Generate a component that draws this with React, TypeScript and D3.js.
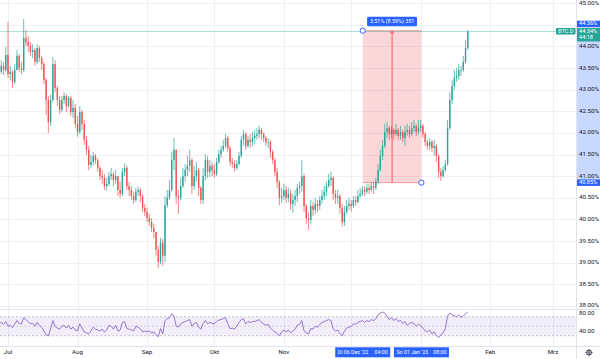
import { useEffect, useRef } from 'react';
import * as d3 from 'd3';

// daily bars as [high, low, close] -- open is the previous close
const firstOpen = 43.48;
const junBars = [[43.57, 43.31, 43.41], [43.68, 43.36, 43.55], [43.64, 43.34, 43.45], [43.98, 43.41, 43.80]];
const julBars = [
  [44.56, 43.27, 43.36], [43.55, 43.22, 43.41], [43.45, 43.04, 43.18], [43.59, 43.13, 43.45], [43.91, 43.45, 43.78],
  [43.82, 43.41, 43.50], [43.64, 43.36, 43.45], [44.63, 43.41, 44.19], [44.38, 44.01, 44.10], [44.24, 43.87, 44.01],
  [44.10, 43.78, 43.87], [44.05, 43.73, 43.91], [43.96, 43.55, 43.64], [44.05, 43.59, 43.96], [44.01, 43.64, 43.73],
  [43.78, 43.45, 43.59], [43.64, 43.13, 43.22], [43.27, 42.41, 42.76], [42.85, 42.00, 42.25], [42.88, 42.16, 42.76],
  [43.75, 42.71, 43.59], [43.68, 42.94, 43.04], [43.08, 42.62, 42.76], [42.85, 42.44, 42.53], [42.85, 42.48, 42.76],
  [42.94, 42.67, 42.85], [42.90, 42.48, 42.62], [42.85, 42.58, 42.81], [42.85, 42.39, 42.48], [42.76, 42.34, 42.58],
  [42.67, 42.11, 42.21],
];
const augBars = [
  [42.39, 41.91, 42.02], [42.62, 41.97, 42.48], [42.53, 42.07, 42.21], [42.30, 41.72, 41.84], [41.93, 41.49, 41.61],
  [41.70, 41.14, 41.26], [41.49, 41.19, 41.33], [41.56, 41.24, 41.47], [41.51, 41.28, 41.37], [41.42, 41.10, 41.19],
  [41.24, 40.91, 41.00], [41.14, 40.82, 40.96], [41.05, 40.68, 40.77], [40.96, 40.66, 40.82], [41.10, 40.77, 41.00],
  [41.19, 40.91, 41.05], [41.10, 40.77, 40.91], [41.14, 40.82, 41.00], [41.00, 40.54, 40.68], [40.87, 40.50, 40.59],
  [41.19, 40.54, 41.10], [41.30, 41.00, 41.19], [41.24, 40.68, 40.77], [40.87, 40.54, 40.68], [40.77, 40.45, 40.54],
  [40.64, 40.36, 40.45], [40.73, 40.40, 40.64], [40.77, 40.54, 40.68], [40.73, 40.40, 40.54], [40.59, 40.17, 40.27],
  [40.36, 40.08, 40.17],
];
const sepBars = [
  [40.27, 39.94, 40.03], [40.13, 39.85, 39.94], [40.03, 39.71, 39.80], [39.90, 39.57, 39.71], [39.71, 39.16, 39.30],
  [39.39, 38.88, 39.02], [39.57, 38.97, 39.46], [39.55, 38.93, 39.16], [40.54, 39.02, 40.33], [40.68, 40.27, 40.50],
  [40.91, 40.45, 40.68], [41.56, 40.64, 41.37], [41.88, 41.14, 41.61], [41.61, 40.36, 40.54], [40.68, 40.13, 40.50],
  [40.96, 40.45, 40.77], [41.19, 40.73, 41.00], [41.28, 40.87, 41.14], [41.47, 41.00, 41.24], [41.61, 41.10, 41.37],
  [41.42, 40.59, 40.77], [41.24, 40.68, 41.00], [41.33, 40.87, 41.14], [41.19, 40.54, 40.73], [40.77, 40.36, 40.45],
  [41.19, 40.36, 41.00], [41.51, 40.91, 41.37], [41.47, 40.96, 41.10], [41.37, 40.98, 41.24], [41.33, 41.00, 41.14],
];
const octBars = [
  [41.28, 40.96, 41.05], [41.42, 41.00, 41.33], [41.61, 41.28, 41.51], [41.70, 41.42, 41.61], [41.84, 41.56, 41.70],
  [41.97, 41.65, 41.88], [41.93, 41.56, 41.65], [41.70, 41.24, 41.33], [41.42, 41.19, 41.28], [41.37, 41.10, 41.19],
  [41.37, 41.14, 41.28], [41.56, 41.24, 41.47], [41.93, 41.42, 41.84], [42.07, 41.70, 41.97], [42.02, 41.61, 41.70],
  [41.93, 41.65, 41.84], [41.97, 41.65, 41.79], [42.02, 41.70, 41.88], [42.07, 41.74, 41.93], [42.11, 41.84, 41.97],
  [42.16, 41.88, 42.07], [42.11, 41.84, 41.97], [42.02, 41.79, 41.88], [41.93, 41.70, 41.79], [41.88, 41.65, 41.79],
  [41.84, 41.42, 41.56], [41.61, 41.28, 41.37], [41.42, 41.00, 41.10], [41.19, 40.73, 40.87], [40.91, 40.33, 40.50],
  [40.73, 40.38, 40.54],
];
const novBars = [
  [40.82, 40.45, 40.68], [40.77, 40.38, 40.50], [40.73, 40.40, 40.59], [40.68, 40.22, 40.36], [40.59, 40.15, 40.45],
  [40.68, 40.31, 40.54], [40.82, 40.40, 40.73], [40.87, 40.59, 40.77], [41.37, 40.64, 41.00], [41.05, 40.17, 40.31],
  [40.36, 39.90, 40.03], [40.17, 39.76, 39.99], [40.45, 39.90, 40.31], [40.40, 40.08, 40.22], [40.50, 40.13, 40.36],
  [40.45, 40.17, 40.31], [40.54, 40.22, 40.45], [40.68, 40.36, 40.54], [40.77, 40.45, 40.64], [40.87, 40.54, 40.77],
  [41.05, 40.73, 40.91], [41.10, 40.77, 40.96], [41.00, 40.45, 40.59], [40.68, 40.36, 40.50], [40.68, 40.36, 40.54],
  [40.59, 40.13, 40.27], [40.36, 39.83, 39.94], [40.31, 39.85, 40.17], [40.45, 40.13, 40.31], [40.50, 40.22, 40.36],
];
const decBars = [
  [40.45, 40.17, 40.31], [40.54, 40.27, 40.45], [40.54, 40.31, 40.40], [40.68, 40.36, 40.54], [40.73, 40.50, 40.59],
  [40.77, 40.54, 40.68], [40.77, 40.54, 40.64], [40.82, 40.59, 40.73], [40.82, 40.59, 40.68], [40.87, 40.64, 40.77],
  [40.87, 40.59, 40.73], [40.96, 40.68, 40.87], [41.28, 40.82, 41.14], [41.61, 41.10, 41.47], [41.84, 41.37, 41.70],
  [42.21, 41.65, 42.02], [42.25, 41.88, 42.11], [42.16, 41.84, 41.97], [42.16, 41.88, 42.07], [42.11, 41.84, 41.97],
  [42.21, 41.93, 42.07], [42.11, 41.84, 41.93], [42.16, 41.84, 42.02], [42.07, 41.79, 41.88], [42.16, 41.70, 42.02],
  [42.21, 41.93, 42.07], [42.16, 41.88, 41.97], [42.25, 41.93, 42.11], [42.30, 42.02, 42.16], [42.21, 41.93, 42.02],
  [42.30, 41.97, 42.11],
];
const janBars = [
  [42.30, 42.02, 42.16], [42.21, 41.88, 41.97], [42.02, 41.70, 41.79], [41.84, 41.61, 41.70], [41.88, 41.61, 41.79],
  [41.84, 41.56, 41.65], [41.84, 41.47, 41.70], [41.74, 41.33, 41.47], [41.51, 40.96, 41.10], [41.19, 40.89, 41.00],
  [41.24, 40.96, 41.14], [41.37, 41.10, 41.28], [42.30, 41.24, 42.11], [42.94, 42.07, 42.76], [43.22, 42.67, 43.08],
  [43.45, 42.99, 43.27], [43.50, 43.18, 43.31], [43.59, 43.22, 43.45], [43.55, 43.31, 43.45], [43.78, 43.41, 43.64],
  [44.15, 43.59, 43.96], [44.38, 43.91, 44.34],
];

// RSI readings, one per bar
const rsiJun = [55, 58, 54, 60];
const rsiJul = [50, 52, 47, 55, 62, 56, 55, 68, 64, 60, 55, 56, 50, 58, 52, 48, 40, 32, 30, 45, 62, 50, 46, 44, 50, 52, 46, 52, 44, 48, 42];
const rsiAug = [40, 55, 46, 38, 36, 34, 40, 48, 44, 42, 40, 44, 38, 42, 52, 50, 44, 52, 40, 42, 58, 60, 45, 44, 42, 40, 50, 48, 44, 38, 40];
const rsiSep = [38, 40, 36, 38, 32, 28, 45, 34, 62, 66, 68, 76, 72, 50, 48, 55, 58, 60, 62, 64, 50, 56, 58, 48, 44, 56, 62, 55, 58, 56];
const rsiOct = [55, 60, 63, 64, 66, 68, 55, 45, 46, 44, 50, 58, 64, 66, 55, 60, 58, 60, 60, 62, 64, 58, 55, 52, 54, 46, 42, 38, 35, 30, 38];
const rsiNov = [42, 38, 42, 36, 40, 44, 52, 54, 62, 40, 36, 34, 45, 44, 50, 48, 54, 58, 60, 62, 64, 62, 44, 40, 42, 35, 30, 40, 46, 48];
const rsiDec = [50, 55, 54, 58, 60, 62, 58, 62, 60, 64, 62, 66, 74, 78, 80, 78, 70, 64, 68, 62, 66, 60, 62, 56, 60, 52, 56, 58, 56, 50, 54];
const rsiJan = [52, 46, 40, 38, 42, 34, 38, 30, 26, 32, 36, 45, 72, 78, 74, 72, 70, 74, 68, 72, 76, 80];

const startDate = new Date(2022, 5, 27);
const priceTicks = [38, 38.5, 39, 39.5, 40, 40.5, 41, 41.5, 42, 42.5, 43, 43.5, 44, 44.5, 45];
const rsiTicks = [80, 40];
const rsiLevels = [70, 50, 30];
const monthLabels = ['Jul', 'Aug', 'Sep', 'Okt', 'Nov', 'Dez', 'Jan', 'Feb', 'Mrz'];
const symbol = 'BTC.D';
const lastPrice = 44.34;
const countdown = '44:18';
const measureLow = 40.85;
const measureHigh = 44.36;
const measureStart = new Date(2022, 11, 6, 4);
const measureEnd = new Date(2023, 0, 1, 8);
const measureText = '3.51% (8.59%) 351';
const measureStartLabel = ["Di 06 Dez '22", '04:00'];
const measureEndLabel = ["So 01 Jan '23", '08:00'];

const UP = '#26a69a';
const DOWN = '#ef5350';
const BLUE = '#2962ff';
const FONT = 'Roboto, "Liberation Sans", sans-serif';

const fmt2 = d3.format('.2f');

const App = () => {
  const ref = useRef<SVGSVGElement>(null);

  useEffect(() => {
    const W = 600;
    const H = 359;
    const axisX = 576;
    const paneBottom = 309;
    const rsiBottom = 346;

    const raw = [...junBars, ...julBars, ...augBars, ...sepBars, ...octBars, ...novBars, ...decBars, ...janBars];
    const rsiVals = [...rsiJun, ...rsiJul, ...rsiAug, ...rsiSep, ...rsiOct, ...rsiNov, ...rsiDec, ...rsiJan];
    const bars = raw.map((b, i) => ({
      date: d3.timeDay.offset(startDate, i),
      open: i === 0 ? firstOpen : raw[i - 1][2],
      high: b[0],
      low: b[1],
      close: b[2],
    }));
    const rsi = rsiVals.map((v, i) => ({ date: d3.timeDay.offset(startDate, i), v }));

    const x = d3.scaleTime().domain([new Date(2022, 6, 1), new Date(2023, 2, 1)]).range([8, 553]);
    const y = d3.scaleLinear().domain([38, 45]).range([306, 3]);
    const r = d3.scaleLinear().domain([30, 70]).range([335.75, 316.75]);
    const months = d3.timeMonth.range(new Date(2022, 6, 1), new Date(2023, 2, 2));

    const svg = d3.select(ref.current);
    svg.selectAll('*').remove();
    svg.append('rect').attr('width', W).attr('height', H).attr('fill', '#fff');

    const defs = svg.append('defs');
    defs.append('clipPath').attr('id', 'mainClip').append('rect').attr('width', axisX).attr('height', paneBottom);
    defs.append('clipPath').attr('id', 'rsiClip').append('rect')
      .attr('y', paneBottom).attr('width', axisX).attr('height', rsiBottom - paneBottom);

    // grid
    const grid = svg.append('g').attr('stroke', '#eef0f5').attr('stroke-width', 1);
    grid.selectAll('line.h').data(priceTicks).enter().append('line')
      .attr('x1', 0).attr('x2', axisX).attr('y1', (d) => Math.round(y(d)) + 0.5).attr('y2', (d) => Math.round(y(d)) + 0.5);
    grid.selectAll('line.v').data(months).enter().append('line')
      .attr('x1', (d) => Math.round(x(d)) + 0.5).attr('x2', (d) => Math.round(x(d)) + 0.5)
      .attr('y1', 0).attr('y2', rsiBottom);

    const main = svg.append('g').attr('clip-path', 'url(#mainClip)');

    // measure box
    const mx0 = x(measureStart);
    const mx1 = x(measureEnd);
    const my0 = y(measureHigh);
    const my1 = y(measureLow);
    main.append('rect').attr('x', mx0).attr('y', my0).attr('width', mx1 - mx0).attr('height', my1 - my0)
      .attr('fill', 'rgba(242,54,69,0.2)');
    main.selectAll('line.mb').data([my0, my1]).enter().append('line')
      .attr('x1', mx0).attr('x2', mx1).attr('y1', (d) => d).attr('y2', (d) => d)
      .attr('stroke', 'rgba(242,54,69,0.6)').attr('stroke-width', 0.8);

    // candles
    const candles = main.selectAll('g.c').data(bars).enter().append('g')
      .attr('fill', (d) => (d.close >= d.open ? UP : DOWN))
      .attr('stroke', (d) => (d.close >= d.open ? UP : DOWN));
    candles.append('line')
      .attr('x1', (d) => x(d.date)).attr('x2', (d) => x(d.date))
      .attr('y1', (d) => y(d.high)).attr('y2', (d) => y(d.low)).attr('stroke-width', 0.7);
    candles.append('rect')
      .attr('stroke', 'none')
      .attr('x', (d) => x(d.date) - 0.7).attr('width', 1.4)
      .attr('y', (d) => y(Math.max(d.open, d.close)))
      .attr('height', (d) => Math.max(0.7, Math.abs(y(d.open) - y(d.close))));

    // last price line
    main.append('line').attr('x1', 0).attr('x2', axisX)
      .attr('y1', y(lastPrice)).attr('y2', y(lastPrice))
      .attr('stroke', UP).attr('stroke-opacity', 0.5).attr('stroke-width', 0.8);

    // measure arrow, handles and label
    const mid = (mx0 + mx1) / 2;
    svg.append('line').attr('x1', mid).attr('x2', mid).attr('y1', my1).attr('y2', my0 + 1)
      .attr('stroke', '#f23645').attr('stroke-width', 0.8);
    svg.append('path').attr('d', `M${mid - 2},${my0 + 3}L${mid},${my0 + 0.5}L${mid + 2},${my0 + 3}`)
      .attr('fill', 'none').attr('stroke', '#f23645').attr('stroke-width', 0.8);
    svg.selectAll('circle.h').data([[mx0, my0], [mx1, my1]]).enter().append('circle')
      .attr('cx', (d) => d[0]).attr('cy', (d) => d[1]).attr('r', 2.6)
      .attr('fill', '#fff').attr('stroke', BLUE).attr('stroke-width', 1);
    svg.append('rect').attr('x', mid - 25).attr('y', my0 - 14).attr('width', 50).attr('height', 9.5)
      .attr('rx', 1.5).attr('fill', BLUE);
    svg.append('text').attr('x', mid).attr('y', my0 - 9.2).attr('text-anchor', 'middle')
      .attr('dominant-baseline', 'middle').attr('font-size', 5.4).attr('font-family', FONT)
      .attr('fill', '#fff').text(measureText);

    // RSI pane
    const rsiG = svg.append('g').attr('clip-path', 'url(#rsiClip)');
    rsiG.append('rect').attr('x', 0).attr('width', axisX).attr('y', r(70)).attr('height', r(30) - r(70))
      .attr('fill', 'rgba(126,87,194,0.1)');
    rsiG.selectAll('line.l').data(rsiLevels).enter().append('line')
      .attr('x1', 0).attr('x2', axisX).attr('y1', (d) => r(d)).attr('y2', (d) => r(d))
      .attr('stroke', '#787b86').attr('stroke-opacity', (d) => (d === 50 ? 0.35 : 0.6))
      .attr('stroke-width', 0.7).attr('stroke-dasharray', '2,2');
    const rsiLine = d3.line<{ date: Date; v: number }>().x((d) => x(d.date)).y((d) => r(d.v));
    rsiG.append('path').datum(rsi).attr('d', rsiLine).attr('fill', 'none')
      .attr('stroke', '#7e57c2').attr('stroke-width', 0.8);

    // separators
    svg.append('line').attr('x1', 0).attr('x2', W).attr('y1', paneBottom + 0.5).attr('y2', paneBottom + 0.5)
      .attr('stroke', '#e0e3eb');
    svg.append('line').attr('x1', 0).attr('x2', W).attr('y1', rsiBottom + 0.5).attr('y2', rsiBottom + 0.5)
      .attr('stroke', '#e0e3eb');
    svg.append('line').attr('x1', axisX + 0.5).attr('x2', axisX + 0.5).attr('y1', 0).attr('y2', H)
      .attr('stroke', '#e0e3eb');

    // price badges sit on the axis and hide the ticks under them
    const badges = [
      { top: my0 - 10, h: 6.5, color: BLUE, lines: [fmt2(measureHigh) + '%'] },
      { top: y(lastPrice) - 3.6, h: 13.5, color: UP, lines: [fmt2(lastPrice) + '%', countdown] },
      { top: my1 - 3.2, h: 6.5, color: BLUE, lines: [fmt2(measureLow) + '%'] },
    ];
    const hidden = (py: number) => badges.some((b) => py + 1.8 > b.top && py - 1.8 < b.top + b.h);

    svg.append('rect').attr('x', axisX + 1).attr('width', W - axisX - 1).attr('y', my0).attr('height', my1 - my0)
      .attr('fill', 'rgba(41,98,255,0.25)');
    svg.selectAll('text.p').data(priceTicks.filter((t) => !hidden(y(t)))).enter().append('text')
      .attr('x', axisX + 3).attr('y', (d) => Math.min(y(d), paneBottom - 3.9)).attr('dominant-baseline', 'middle')
      .attr('font-size', 6.2).attr('font-family', FONT).attr('fill', '#131722')
      .text((d) => fmt2(d) + '%');
    svg.selectAll('text.r').data(rsiTicks).enter().append('text')
      .attr('x', axisX + 3).attr('y', (d) => Math.max(r(d), paneBottom + 3.9)).attr('dominant-baseline', 'middle')
      .attr('font-size', 6.2).attr('font-family', FONT).attr('fill', '#131722')
      .text((d) => fmt2(d));

    badges.forEach((b) => {
      svg.append('rect').attr('x', axisX + 1).attr('y', b.top).attr('width', W - axisX - 1).attr('height', b.h)
        .attr('fill', b.color);
      b.lines.forEach((t, i) => {
        svg.append('text').attr('x', axisX + 3).attr('y', b.top + 3.3 + i * 6.6).attr('dominant-baseline', 'middle')
          .attr('font-size', 5.6).attr('font-family', FONT).attr('fill', '#fff').text(t);
      });
    });

    svg.append('rect').attr('x', axisX - 20).attr('y', y(lastPrice) - 3.6).attr('width', 19.5).attr('height', 6.5)
      .attr('rx', 1).attr('fill', UP);
    svg.append('text').attr('x', axisX - 10.2).attr('y', y(lastPrice) - 0.3).attr('text-anchor', 'middle')
      .attr('dominant-baseline', 'middle').attr('font-size', 5.4).attr('font-family', FONT).attr('fill', '#fff')
      .text(symbol);

    // time axis; the crosshair badges cover Dez and Jan
    const badgeHalf = 27.5;
    const covered = (mx: number) => [mx0, mx1].some((c) => Math.abs(mx - c) < badgeHalf + 6);
    const monthItems = months.map((m, i) => ({ m, label: monthLabels[i] })).filter((d) => !covered(x(d.m)));
    svg.selectAll('text.m').data(monthItems).enter().append('text')
      .attr('x', (d) => x(d.m)).attr('y', 352.5).attr('text-anchor', 'middle').attr('dominant-baseline', 'middle')
      .attr('font-size', 6.2).attr('font-family', FONT).attr('fill', '#131722')
      .text((d) => d.label);

    const timeBadge = (cx: number, parts: string[]) => {
      svg.append('rect').attr('x', cx - badgeHalf).attr('y', 347.3).attr('width', badgeHalf * 2).attr('height', 10)
        .attr('fill', BLUE);
      svg.append('text').attr('x', cx - 25).attr('y', 352.5).attr('dominant-baseline', 'middle')
        .attr('font-size', 5.3).attr('font-family', FONT).attr('fill', '#fff').text(parts[0]);
      svg.append('text').attr('x', cx + 25).attr('y', 352.5).attr('text-anchor', 'end').attr('dominant-baseline', 'middle')
        .attr('font-size', 5.3).attr('font-family', FONT).attr('fill', '#fff').text(parts[1]);
    };
    timeBadge(mx0, measureStartLabel);
    timeBadge(mx1, measureEndLabel);

    // settings gear
    const gear = svg.append('g').attr('transform', 'translate(589,352.5)')
      .attr('stroke', '#131722').attr('fill', 'none').attr('stroke-width', 0.8);
    gear.append('circle').attr('r', 2.4);
    gear.append('circle').attr('r', 0.9);
    gear.selectAll('line').data(d3.range(8)).enter().append('line')
      .attr('x1', (i) => 2.4 * Math.cos((i * Math.PI) / 4)).attr('y1', (i) => 2.4 * Math.sin((i * Math.PI) / 4))
      .attr('x2', (i) => 3.5 * Math.cos((i * Math.PI) / 4)).attr('y2', (i) => 3.5 * Math.sin((i * Math.PI) / 4));
  }, []);

  return (
    <svg
      ref={ref}
      width={600}
      height={359}
      style={{ position: 'absolute', left: 0, top: 0, display: 'block' }}
    />
  );
};

export default App;
